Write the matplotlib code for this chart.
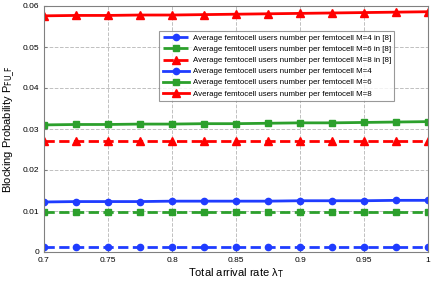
import numpy as np
import matplotlib.pyplot as plt

plt.rcParams['font.family'] = ['Liberation Sans', 'DejaVu Sans']

# arrival rate
x = [0.7, 0.725, 0.75, 0.775, 0.8, 0.825, 0.85, 0.875, 0.9, 0.925, 0.95, 0.975, 1.0]

m4_ref = [0.0011, 0.0011, 0.0011, 0.0011, 0.0011, 0.0011, 0.0011, 0.0011, 0.0011, 0.0011, 0.0011, 0.0011, 0.0011]
m6_ref = [0.0097, 0.0097, 0.0097, 0.0097, 0.0097, 0.0097, 0.0097, 0.0097, 0.0097, 0.0097, 0.0097, 0.0097, 0.0097]
m8_ref = [0.0270, 0.0270, 0.0270, 0.0270, 0.0270, 0.0270, 0.0270, 0.0270, 0.0270, 0.0270, 0.0270, 0.0270, 0.0270]
m4 = [0.0122, 0.0123, 0.0123, 0.0123, 0.0124, 0.0124, 0.0124, 0.0124, 0.0125, 0.0125, 0.0125, 0.0126, 0.0126]
m6 = [0.0310, 0.0311, 0.0311, 0.0312, 0.0312, 0.0313, 0.0313, 0.0314, 0.0315, 0.0315, 0.0316, 0.0317, 0.0318]
m8 = [0.0576, 0.0577, 0.0577, 0.0578, 0.0578, 0.0579, 0.0580, 0.0581, 0.0582, 0.0583, 0.0584, 0.0585, 0.0586]

labels = [
    "Average femtocell users number per femtocell M=4 in [8]",
    "Average femtocell users number per femtocell M=6 in [8]",
    "Average femtocell users number per femtocell M=8 in [8]",
    "Average femtocell users number per femtocell M=4",
    "Average femtocell users number per femtocell M=6",
    "Average femtocell users number per femtocell M=8",
]

blue = '#1f3cff'
green = '#2ca02c'
red = '#ff0000'

fig = plt.figure(figsize=(4.36, 2.84), dpi=100)
ax = fig.add_axes([44 / 436, 32 / 284, 384 / 436, 246 / 284])

ax.plot(x, m4_ref, '--', color=blue, lw=2, marker='o', ms=4.5, label=labels[0])
ax.plot(x, m6_ref, '--', color=green, lw=2, marker='s', ms=4.5, label=labels[1])
ax.plot(x, m8_ref, '--', color=red, lw=2, marker='^', ms=5.5, label=labels[2])
ax.plot(x, m4, '-', color=blue, lw=2, marker='o', ms=4.5, label=labels[3])
ax.plot(x, m6, '-', color=green, lw=2, marker='s', ms=4.5, label=labels[4])
ax.plot(x, m8, '-', color=red, lw=2, marker='^', ms=5.5, label=labels[5])

ax.set_xlim(0.7, 1.0)
ax.set_ylim(0, 0.06)
ax.set_xticks([0.7, 0.75, 0.8, 0.85, 0.9, 0.95, 1.0])
ax.set_xticklabels(['0.7', '0.75', '0.8', '0.85', '0.9', '0.95', '1'])
ax.set_yticks([0, 0.01, 0.02, 0.03, 0.04, 0.05, 0.06])
ax.set_yticklabels(['0', '0.01', '0.02', '0.03', '0.04', '0.05', '0.06'])
ax.tick_params(labelsize=6, direction='in', length=2, color='#808080')
ax.grid(True, ls='--', color='#c0c0c0', lw=0.7)
for s in ax.spines.values():
    s.set_color('#808080')

ax.set_xlabel('Total arrival rate λ$_\\mathrm{T}$', fontsize=8, labelpad=2)
ax.set_ylabel('Blocking Probability P$_{\\mathrm{FU\\_F}}$', fontsize=8, labelpad=4)

leg = ax.legend(loc='upper left', bbox_to_anchor=(111 / 384, 1 - 21 / 246), fontsize=5.7,
                frameon=True, fancybox=False, edgecolor='#808080', handlelength=3.4,
                labelspacing=0.45, borderpad=0.45, handletextpad=0.4)
leg.get_frame().set_linewidth(0.8)

fig.savefig('out.png', dpi=100)
